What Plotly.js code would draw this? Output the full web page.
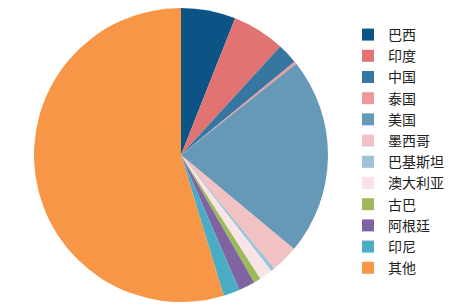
<!DOCTYPE html>
<html><head><meta charset="utf-8">
<script src="https://cdn.plot.ly/plotly-3.0.1.min.js"></script>
<style>body{margin:0;padding:0;background:#fff}#chart{width:451px;height:306px}</style>
</head><body><div id="chart"></div>
<script>
const categories = ["巴西","印度","中国","泰国","美国","墨西哥","巴基斯坦","澳大利亚","古巴","阿根廷","印尼","其他"];
const shares = [6.0, 5.8, 2.25, 0.3, 21.7, 3.0, 0.42, 1.47, 0.77, 1.8, 1.8, 54.7];
const colors = ["#0b5485","#e27373","#3577a0","#ef9a9a","#6698b8","#f2c1c1","#9cc3d7","#fae3e6","#9bbb59","#8064a2","#4bacc6","#f79646"];

const data = [{
  type: "pie",
  labels: categories,
  values: shares,
  sort: false,
  direction: "clockwise",
  rotation: 0,
  textinfo: "none",
  hoverinfo: "label+percent",
  marker: {colors: colors, line: {width: 0}},
  domain: {x: [34/451, 328/451], y: [4/306, 298/306]}
}];
const layout = {
  width: 451, height: 306,
  margin: {l: 0, r: 0, t: 0, b: 0, autoexpand: false},
  paper_bgcolor: "#fff",
  showlegend: true,
  font: {family: "Noto Sans CJK SC, sans-serif", color: "#222"},
  legend: {
    x: 348/451, y: 1 - 19/306, xanchor: "left", yanchor: "top",
    font: {size: 14, family: "Noto Sans CJK SC, sans-serif", color: "#222"},
    itemwidth: 30, tracegroupgap: 0, bgcolor: "rgba(0,0,0,0)"
  }
};
Plotly.newPlot("chart", data, layout, {displayModeBar: false, staticPlot: true});
</script></body></html>
